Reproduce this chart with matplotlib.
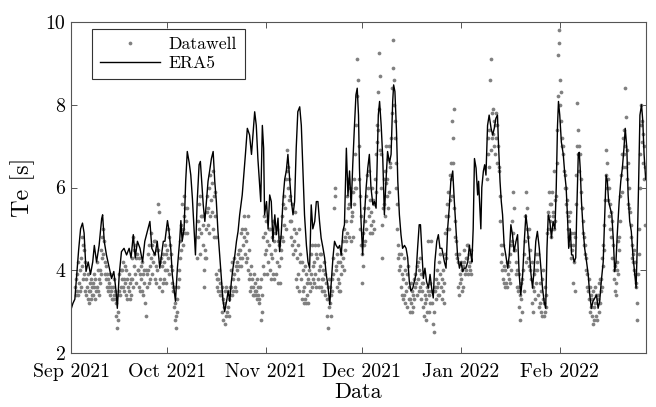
import numpy as np
import matplotlib
matplotlib.use("Agg")
import matplotlib.pyplot as plt

nan = np.nan
start = np.datetime64("2021-09-01T00:00")
end = np.datetime64("2022-02-28T00:00")

# ERA5 mean wave period: (day since 1 Sep 2021, Te [s])
era5_day = [0.0, 0.6, 1.2, 1.8, 2.4, 3.0, 3.6, 4.1, 4.7, 5.4, 6.1, 6.8, 7.3, 8.0, 8.8, 9.6, 9.9,
            10.4, 11.1, 12.0, 12.7, 13.4, 14.1, 14.5, 15.1, 15.8, 16.6, 17.4, 18.2, 18.8, 19.5,
            20.1, 20.8, 21.6, 22.4, 23.1, 23.9, 24.7, 25.3, 26.3, 27.0, 27.8, 28.9, 29.4, 30.2,
            30.6, 31.25, 31.7, 32.3, 32.7, 33.3, 34.0, 34.4, 34.8, 35.4, 35.9, 36.4, 37.0, 37.5,
            38.0, 38.5, 38.96, 39.5, 40.1, 40.5, 40.9, 41.4, 41.9, 42.4, 42.9, 43.4, 43.96, 44.5,
            45.0, 45.5, 46.0, 46.6, 47.1, 47.6, 48.1, 48.7, 49.2, 49.7, 50.2, 50.7, 51.3, 51.8,
            52.3, 52.8, 53.6, 54.1, 54.6, 55.2, 55.9, 56.5, 57.0, 57.5, 58.0, 58.5, 59.1, 59.4,
            59.9, 60.3, 60.6, 61.2, 61.7, 62.2, 62.7, 63.2, 63.8, 64.3, 64.8, 65.3, 65.8, 66.4,
            66.9, 67.4, 67.9, 68.5, 69.0, 69.5, 70.0, 70.5, 71.0, 71.6, 72.1, 72.6, 73.1, 73.7,
            74.2, 74.7, 75.2, 75.7, 76.3, 76.8, 77.3, 77.8, 78.3, 78.9, 79.4, 79.9, 80.4, 81.0,
            81.5, 82.0, 82.5, 83.0, 83.6, 84.1, 84.6, 85.1, 85.6, 86.2, 86.7, 87.2, 87.7, 88.2,
            88.7, 89.2, 89.6, 90.0, 90.3, 90.8, 91.3, 91.6, 92.4, 92.9, 93.4, 93.9, 94.5, 95.0,
            95.5, 95.8, 96.2, 96.6, 97.1, 97.6, 98.1, 98.6, 99.1, 99.7, 100.2, 100.7, 101.0,
            101.4, 101.9, 102.3, 102.8, 103.3, 103.8, 104.4, 104.9, 105.4, 105.9, 106.4, 107.0,
            107.5, 108.0, 108.5, 109.0, 109.4, 109.8, 110.3, 110.8, 111.3, 111.9, 112.4, 112.9,
            113.4, 113.9, 114.5, 115.0, 115.5, 116.1, 116.9, 117.4, 117.9, 118.4, 118.9, 119.5,
            120.0, 120.5, 121.0, 121.6, 122.1, 122.6, 123.1, 123.6, 124.2, 124.7, 125.2, 125.5,
            125.9, 126.3, 126.8, 127.3, 127.6, 128.0, 128.3, 128.6, 129.1, 129.5, 129.9, 130.4,
            130.9, 131.5, 132.0, 132.5, 133.0, 133.5, 133.8, 134.3, 134.7, 135.1, 135.6, 136.1,
            136.7, 137.2, 137.7, 138.2, 138.7, 139.3, 139.8, 140.3, 140.8, 141.4, 141.9, 142.4,
            142.9, 143.4, 144.0, 144.5, 145.0, 145.5, 146.0, 146.6, 147.1, 147.6, 148.1, 148.6,
            149.0, 149.4, 149.9, 150.4, 150.9, 151.5, 151.9, 152.3, 152.6, 153.0, 153.5, 154.1,
            154.6, 155.0, 155.4, 155.8, 156.3, 156.7, 157.1, 157.5, 158.0, 158.3, 158.8, 159.1,
            159.4, 159.8, 160.3, 160.8, 161.4, 161.9, 162.4, 162.9, 163.4, 164.0, 164.5, 165.0,
            165.5, 166.0, 166.6, 167.1, 167.5, 167.9, 168.3, 168.8, 169.3, 169.8, 170.2, 170.6,
            171.0, 171.6, 172.1, 172.6, 173.1, 173.5, 174.0, 174.4, 174.9, 175.4, 175.9, 176.5,
            176.9, 177.3, 177.7, 178.1, 178.6, 179.0, 179.4, 179.9]
era5_te = [3.05, 3.2, 3.3, 3.9, 4.5, 5.0, 5.14, 4.9, 3.97, 4.2, 3.9, 4.2, 4.6, 4.2, 4.6, 5.25, 5.34,
           4.7, 4.37, 4.05, 3.8, 3.97, 3.5, 3.08, 3.9, 4.45, 4.53, 4.37, 4.53, 4.3, 4.86,
           4.3, 4.7, 4.53, 4.2, 4.7, 4.94, 5.18, 4.53, 4.37, 4.7, 4.05, 4.7, 4.7, 5.2,
           5.0, 4.5, 3.9, 3.5, 3.25, 4.05, 4.7, 5.2, 4.7, 5.0, 6.15, 6.87, 6.6, 6.3,
           5.74, 5.0, 4.37, 5.66, 6.55, 6.63, 6.15, 5.58, 5.18, 5.66, 6.15, 6.4, 6.7, 6.87,
           6.15, 5.66, 4.94, 4.3, 3.73, 3.25, 3.0, 3.25, 3.5, 3.25, 3.73, 4.05, 4.37, 4.7,
           4.94, 5.34, 5.82, 6.3, 6.8, 7.43, 7.27, 6.8, 7.3, 7.83, 7.5, 6.7, 6.0, 5.66,
           7.5, 6.95, 5.34, 5.66, 5.0, 5.82, 5.66, 4.7, 5.34, 4.86, 5.26, 4.45, 4.86, 5.74,
           6.2, 6.4, 6.8, 6.15, 5.66, 5.34, 5.66, 6.95, 7.83, 7.95, 7.5, 6.4, 5.34, 4.6,
           4.2, 4.05, 5.58, 5.0, 5.18, 5.66, 5.66, 5.18, 4.78, 4.53, 4.3, 3.9, 3.65, 3.17,
           3.73, 4.3, 4.7, 4.6, 4.53, 4.6, 4.37, 4.94, 5.1, 6.95, 5.8, 6.4, 5.5, 6.55,
           7.43, 8.24, 8.4, 7.75, 6.47, 5.18, 4.37, 5.0, 6.0, 6.47, 6.8, 6.0, 5.58, 5.66,
           5.5, 6.47, 7.75, 8.08, 7.5, 6.7, 5.34, 6.15, 6.87, 6.6, 6.8, 8.08, 8.48,
           8.32, 7.35, 6.15, 5.34, 4.86, 4.53, 4.6, 4.53, 4.3, 3.73, 3.5, 3.57,
           3.73, 3.9, 4.53, 5.1, 5.1, 4.53, 3.8, 4.05, 3.73, 3.57, 3.9, 3.57,
           3.33, 4.2, 4.7, 4.86, 4.53, 4.53, 4.2, 4.05, 5.0, 5.5, 6.15, 6.4,
           5.66, 5.0, 4.37, 4.05, 4.2, 3.97, 4.05, 4.05, 4.2, 4.6, 4.37, 4.2,
           5.0, 6.7, 6.47, 5.82, 6.15, 5.5, 5.0, 6.0, 6.4, 6.55, 6.3, 7.5,
           7.75, 7.43, 7.27, 7.43, 7.67, 7.75, 7.1, 6.15, 5.66, 5.34, 4.6, 4.37,
           4.05, 4.37, 5.1, 4.86, 4.45, 4.7, 4.86, 3.9, 3.4, 3.9, 4.7, 5.34,
           5.0, 4.53, 3.9, 3.57, 4.05, 4.7, 4.94, 4.53, 4.05, 3.57, 3.25, 3.08,
           4.53, 5.34, 5.18, 4.78, 5.18, 5.0, 6.0, 7.5, 8.08, 7.75, 7.1, 6.8,
           6.3, 6.0, 5.34, 4.53, 5.0, 4.37, 4.37, 4.2, 4.3, 5.34, 6.8, 6.85,
           6.47, 5.66, 5.0, 4.53, 4.2, 3.9, 3.4, 3.08, 3.25, 3.33, 3.4, 3.08,
           3.25, 3.73, 4.2, 5.34, 6.3, 6.15, 5.66, 5.5, 5.34, 4.7, 3.97, 4.2,
           4.86, 5.66, 6.15, 6.47, 6.95, 7.43, 6.95, 5.82, 5.18, 4.94, 4.37, 3.9,
           3.57, 4.7, 6.15, 7.75, 8.0, 7.6, 6.8, 6.2]

# Datawell buoy Te [s]: one row per day (1 Sep 2021 ...), six samples per day (every 4 h)
datawell_te = [
    [nan, nan, nan, nan, nan, nan],
    [nan, nan, 3.6, 3.4, 3.8, 3.5],
    [3.9, 3.4, 4.2, 3.7, 4.0, 3.5],
    [4.3, 3.6, 4.8, 4.1, 4.6, 3.8],
    [4.5, 3.9, 4.2, 3.5, 3.8, 3.4],
    [3.6, 3.3, 3.9, 3.5, 3.2, 3.7],
    [3.5, 3.8, 3.3, 3.6, 3.4, 3.7],
    [3.4, 3.9, 3.6, 3.3, 3.8, 3.5],
    [3.6, 4.2, 3.5, 4.0, 3.8, 3.4],
    [4.0, 3.7, 4.5, 3.9, 4.8, 4.3],
    [5.0, 4.4, 4.7, 3.9, 4.2, 3.8],
    [4.1, 3.6, 3.9, 3.5, 3.8, 3.6],
    [3.7, 3.4, 3.9, 3.5, 3.6, 3.3],
    [3.6, 3.3, 3.8, 3.4, 3.5, 3.3],
    [3.2, 2.9, 3.4, 2.6, 3.0, 2.8],
    [3.5, 3.9, 3.4, 4.0, 3.6, 3.8],
    [4.0, 3.6, 4.2, 3.8, 3.5, 4.1],
    [3.7, 4.0, 3.4, 3.8, 3.3, 3.6],
    [3.5, 3.9, 3.3, 3.7, 3.4, 3.8],
    [3.8, 4.3, 3.6, 4.8, 4.1, 4.5],
    [4.6, 3.9, 4.3, 3.7, 4.4, 4.0],
    [4.0, 3.6, 4.3, 3.5, 3.9, 4.1],
    [3.8, 4.2, 3.5, 3.9, 3.4, 4.0],
    [3.7, 3.2, 4.0, 2.9, 3.6, 3.9],
    [4.0, 4.4, 3.7, 4.6, 4.1, 3.8],
    [4.3, 4.9, 3.9, 4.6, 4.2, 4.7],
    [4.4, 3.8, 4.7, 4.1, 3.7, 4.5],
    [4.0, 5.6, 4.5, 3.6, 5.4, 4.2],
    [3.8, 4.3, 3.5, 4.1, 3.7, 4.4],
    [4.2, 3.8, 4.6, 4.0, 4.4, 3.7],
    [4.5, 4.0, 5.0, 4.3, 4.8, 3.9],
    [4.6, 4.1, 4.4, 3.7, 4.0, 3.6],
    [3.5, 3.1, 3.6, 2.8, 3.2, 2.6],
    [2.9, 3.3, 3.0, 3.6, 3.8, 4.0],
    [4.3, 4.7, 4.5, 5.1, 4.9, 5.6],
    [5.0, 4.6, 5.8, 5.3, 5.5, 4.9],
    [5.2, 4.9, 5.5, nan, nan, nan],
    [nan, nan, nan, nan, nan, nan],
    [nan, nan, nan, nan, nan, nan],
    [nan, nan, nan, 4.3, 4.8, 5.2],
    [5.0, 5.6, 4.4, 5.8, 4.9, 5.3],
    [5.3, 4.6, 5.1, 4.0, 3.6, 4.3],
    [4.5, 5.0, 4.3, 5.4, 5.8, 5.1],
    [5.5, 4.9, 6.0, 5.3, 6.3, 5.7],
    [6.1, 5.4, 6.4, 5.0, 5.8, 4.8],
    [5.3, 5.9, 4.8, 3.9, 3.6, 3.8],
    [3.8, 3.5, 4.0, 3.4, 3.7, 3.5],
    [3.4, 3.0, 3.6, 2.8, 3.3, 3.1],
    [3.2, 2.7, 3.5, 2.9, 3.6, 3.0],
    [3.1, 3.5, 2.9, 3.3, 3.6, 3.4],
    [3.6, 4.0, 3.4, 4.2, 3.8, 3.5],
    [3.9, 4.3, 3.6, 4.1, 3.5, 4.2],
    [4.0, 4.4, 3.8, 4.5, 4.1, 4.3],
    [4.5, 4.1, 4.9, 4.3, 5.0, 4.6],
    [4.8, 5.3, 4.4, 5.0, 4.2, 4.7],
    [4.9, 4.3, 5.3, 4.0, 4.5, 3.8],
    [3.9, 3.5, 4.1, 3.6, 3.8, 3.4],
    [3.6, 3.4, 3.9, 3.5, 3.7, 3.4],
    [3.5, 3.3, 3.8, 3.4, 3.6, 3.3],
    [3.2, 3.6, 2.8, 3.8, 3.0, 3.4],
    [4.1, 4.8, 3.9, 5.3, 4.4, 4.9],
    [4.5, 5.2, 3.9, 4.7, 4.2, 5.0],
    [4.6, 4.0, 5.0, 3.8, 4.4, 4.8],
    [4.3, 5.2, 3.9, 4.7, 3.8, 4.9],
    [4.5, 3.9, 5.0, 4.2, 4.7, 3.7],
    [4.1, 4.6, 3.7, 4.8, 4.3, 4.5],
    [4.8, 5.3, 4.7, 5.6, 5.1, 5.8],
    [5.5, 6.2, 5.0, 6.9, 6.4, 6.0],
    [6.5, 5.7, 6.2, 5.2, 5.8, 4.8],
    [5.2, 4.6, 5.6, 4.4, 5.0, 4.7],
    [4.5, 5.4, 3.8, 4.9, 3.6, 4.3],
    [4.6, 3.9, 5.0, 3.5, 4.2, 4.4],
    [3.8, 3.3, 4.2, 3.5, 4.0, 3.2],
    [3.6, 4.1, 3.3, 3.9, 3.2, 3.7],
    [3.4, 3.8, 3.2, 4.0, 3.5, 3.7],
    [3.9, 4.4, 3.6, 4.6, 4.1, 3.8],
    [4.2, 3.7, 4.6, 3.9, 4.4, 3.6],
    [4.3, 3.8, 4.6, 4.0, 3.6, 4.4],
    [4.1, 3.6, 4.4, 3.8, 3.5, 4.0],
    [3.8, 4.2, 3.5, 3.9, 3.4, 3.7],
    [3.3, 2.9, 3.6, 2.6, 3.1, 3.8],
    [3.2, 3.6, 2.9, 3.4, 3.8, 3.5],
    [3.9, 4.3, 5.5, 5.8, 6.0, 4.1],
    [4.0, 3.6, 4.4, 3.8, 4.2, 3.5],
    [3.7, 4.2, 3.5, 4.4, 3.9, 4.1],
    [4.3, 4.7, 4.0, 5.0, 4.5, 4.8],
    [5.2, 4.7, 5.8, 4.9, 6.2, 5.5],
    [5.6, 4.8, 6.0, 5.2, 4.7, 5.4],
    [5.3, 5.9, 4.8, 6.2, 5.6, 6.0],
    [6.8, 7.5, 6.0, 8.2, 9.1, 8.6],
    [7.0, 6.2, 5.8, 5.0, 4.6, 5.3],
    [4.4, 3.7, 4.9, 4.1, 5.5, 4.6],
    [5.2, 4.7, 5.8, 5.0, 6.3, 5.5],
    [6.0, 5.3, 6.4, 4.9, 5.7, 5.1],
    [5.4, 4.9, 6.0, 5.2, 5.7, 5.0],
    [5.6, 6.2, 5.9, 6.8, 7.1, 7.5],
    [7.4, 8.3, 7.9, 9.25, 8.7, 6.9],
    [6.8, 6.0, 5.1, 4.3, 5.5, 6.2],
    [5.6, 6.4, 5.3, 7.0, 6.1, 5.8],
    [6.2, 5.5, 6.7, 5.9, 7.0, 6.5],
    [6.6, 7.2, 7.8, 8.4, 9.57, 8.9],
    [8.6, 8.0, 7.6, 7.2, 6.6, 6.0],
    [5.6, 5.0, 4.6, 4.3, 4.0, 4.4],
    [4.1, 3.6, 4.4, 3.4, 3.9, 3.3],
    [3.8, 4.3, 3.4, 4.0, 3.2, 3.7],
    [3.5, 3.9, 3.1, 4.1, 3.3, 3.6],
    [3.3, 3.0, 3.7, 3.2, 3.5, 3.0],
    [3.4, 3.1, 3.8, 3.3, 3.6, 3.9],
    [3.7, 4.1, 3.4, 4.2, 3.8, 3.5],
    [4.0, 4.3, 3.6, 3.9, 3.3, 3.7],
    [3.5, 3.1, 3.7, 2.9, 3.4, 3.2],
    [3.3, 2.8, 3.6, 3.0, 3.5, 4.7],
    [3.4, 3.0, 3.7, 3.2, 4.7, 3.5],
    [3.2, 2.7, 3.5, 2.5, 3.0, 3.6],
    [3.5, 3.8, 3.3, 4.0, 3.6, 3.4],
    [3.7, 4.2, 3.4, 4.4, 3.9, 3.6],
    [3.8, 3.3, 4.0, 3.5, 3.7, 3.2],
    [4.4, 4.9, 4.3, 5.3, 5.0, 5.6],
    [5.3, 5.9, 5.0, 6.3, 5.7, 6.6],
    [6.2, 7.6, 5.8, 7.2, 6.6, 7.9],
    [5.5, 4.8, 5.2, 4.4, 4.7, 4.3],
    [4.2, 3.6, 4.4, 3.4, 3.9, 3.7],
    [3.8, 4.2, 3.5, 4.0, 3.6, 4.1],
    [4.2, 4.5, 3.9, 4.3, 4.0, 4.6],
    [4.3, 3.9, 4.6, 4.1, 4.4, 4.0],
    [4.2, 4.5, 3.9, nan, nan, nan],
    [nan, nan, nan, nan, nan, nan],
    [nan, nan, nan, nan, nan, nan],
    [nan, nan, nan, nan, nan, nan],
    [nan, nan, nan, nan, nan, nan],
    [nan, nan, 6.2, 6.8, 7.2, 6.5],
    [7.4, 8.6, 6.9, 9.1, 7.8, 7.2],
    [7.3, 7.9, 7.0, 7.6, 6.8, 7.5],
    [7.2, 7.8, 6.6, 7.5, 7.0, 6.5],
    [6.4, 5.8, 5.2, 4.6, 4.2, 4.0],
    [4.4, 3.8, 4.6, 3.7, 4.1, 3.6],
    [4.0, 3.7, 4.2, 3.6, 3.9, 4.1],
    [3.8, 4.2, 3.7, 4.4, 4.0, 4.6],
    [5.2, 4.7, 5.9, 4.9, 5.5, 4.5],
    [4.5, 3.9, 4.2, 3.6, 4.0, 3.5],
    [3.6, 3.1, 3.9, 2.8, 3.4, 3.7],
    [3.3, 3.8, 3.0, 4.0, 3.5, 4.4],
    [4.7, 5.3, 4.2, 5.9, 5.0, 5.5],
    [4.8, 4.3, 5.0, 4.1, 4.5, 4.0],
    [3.8, 3.2, 4.2, 3.0, 3.6, 3.9],
    [3.5, 4.0, 3.3, 4.4, 3.7, 4.2],
    [4.0, 3.4, 4.4, 3.1, 3.7, 3.2],
    [3.5, 3.0, 3.8, 2.9, 3.3, 4.0],
    [3.2, 2.9, 3.6, 3.0, 3.4, 3.1],
    [4.9, 5.4, 5.0, 5.9, 5.3, 5.6],
    [5.2, 4.8, 5.6, 5.0, 5.9, 5.3],
    [5.4, 5.0, 6.4, 5.7, 5.2, 5.8],
    [6.6, 7.4, 8.2, 9.2, 9.8, 9.5],
    [8.6, 8.0, 7.6, 8.3, 7.2, 7.0],
    [6.8, 7.0, 6.4, 6.0, 6.3, 5.6],
    [6.0, 5.4, 5.7, 5.0, 5.3, 4.8],
    [5.2, 4.6, 5.4, 4.3, 4.9, 4.5],
    [4.6, 3.7, 4.9, 4.2, 3.5, 4.8],
    [5.6, 6.3, 7.0, 8.04, 7.4, 6.8],
    [7.0, 6.4, 6.8, 5.9, 6.2, 5.5],
    [5.5, 4.9, 5.2, 4.6, 4.8, 4.4],
    [4.6, 4.0, 4.3, 3.6, 3.9, 3.5],
    [3.8, 3.3, 3.6, 3.0, 3.4, 3.1],
    [3.3, 2.9, 3.5, 2.7, 3.1, 2.8],
    [3.2, 3.6, 2.9, 3.4, 2.8, 3.3],
    [3.4, 3.0, 3.7, 3.2, 3.8, 3.5],
    [3.8, 4.3, 3.6, 4.6, 4.1, 4.5],
    [5.1, 5.7, 6.3, 6.9, 6.6, 6.0],
    [6.2, 5.7, 6.0, 5.3, 5.6, 5.0],
    [5.4, 4.8, 5.2, 4.3, 4.6, 4.0],
    [3.8, 3.5, 4.1, 3.4, 3.7, 4.0],
    [4.2, 4.7, 3.9, 4.8, 4.5, 5.2],
    [5.8, 6.3, 5.9, 6.8, 6.5, 7.2],
    [6.8, 7.4, 8.4, 7.0, 6.5, 7.7],
    [6.9, 6.2, 6.6, 5.6, 6.0, 5.5],
    [5.4, 4.8, 5.1, 4.3, 4.6, 4.2],
    [4.4, 4.0, 4.5, 3.9, 4.2, 3.7],
    [3.6, 2.8, 3.2, 3.9, 4.4, 5.0],
    [6.0, 6.8, 7.5, 8.0, 7.6, 7.1],
    [7.3, 6.6, 7.0, 6.2, 6.5, 5.1],
]

month_ticks = ["2021-09-01", "2021-10-01", "2021-11-01", "2021-12-01", "2022-01-01", "2022-02-01"]
month_labels = ["Sep 2021", "Oct 2021", "Nov 2021", "Dec 2021", "Jan 2022", "Feb 2022"]
y_ticks = [2, 4, 6, 8, 10]

plt.rcParams["font.family"] = ["cmr10", "DejaVu Serif"]
plt.rcParams["mathtext.fontset"] = "cm"
plt.rcParams["axes.formatter.use_mathtext"] = True

def to_time(days):
    mins = np.round(np.asarray(days, dtype=float) * 1440).astype("int64")
    return start + mins.astype("timedelta64[m]")

dw = np.array(datawell_te, dtype=float)
n_days, per_day = dw.shape
dw_days = (np.arange(n_days)[:, None] + np.arange(per_day)[None, :] / per_day).ravel()
dw_t = to_time(dw_days)
dw_v = dw.ravel()
era_t = to_time(era5_day)

fig = plt.figure(figsize=(6.56, 4.07), dpi=100)
ax = fig.add_axes([71 / 656, 1 - 353 / 407, 575 / 656, 331 / 407])

ax.plot(dw_t, dw_v, linestyle="none", marker="o", markersize=2.7,
        markerfacecolor="#808080", markeredgecolor="none", label="Datawell")
ax.plot(era_t, era5_te, color="black", linewidth=1.0, label="ERA5")

ax.set_xlim(start, end)
ax.set_ylim(2, 10)
ax.set_yticks(y_ticks)
ax.set_yticklabels([str(v) for v in y_ticks])
ax.set_xticks(np.array(month_ticks, dtype="datetime64[m]"))
ax.set_xticklabels(month_labels)

for s in ax.spines.values():
    s.set_color("#555555")
    s.set_linewidth(0.8)
ax.tick_params(direction="in", length=4, width=0.7, color="#555555",
               top=True, right=True, labelsize=14.3)
ax.tick_params(axis="x", pad=7)
ax.tick_params(axis="y", pad=4)

ax.set_xlabel("Data", fontsize=16, labelpad=1)
ax.set_ylabel("Te [s]", fontsize=17.5, labelpad=8)

leg = ax.legend(loc="upper left", bbox_to_anchor=(0.0365, 0.979), borderaxespad=0,
                fontsize=12.7, handlelength=3.4, handletextpad=0.5, borderpad=0.45,
                labelspacing=0.2, fancybox=False, framealpha=1, edgecolor="#333333",
                markerscale=1.0)
leg.get_frame().set_linewidth(0.8)

fig.savefig("out.png", dpi=100)
